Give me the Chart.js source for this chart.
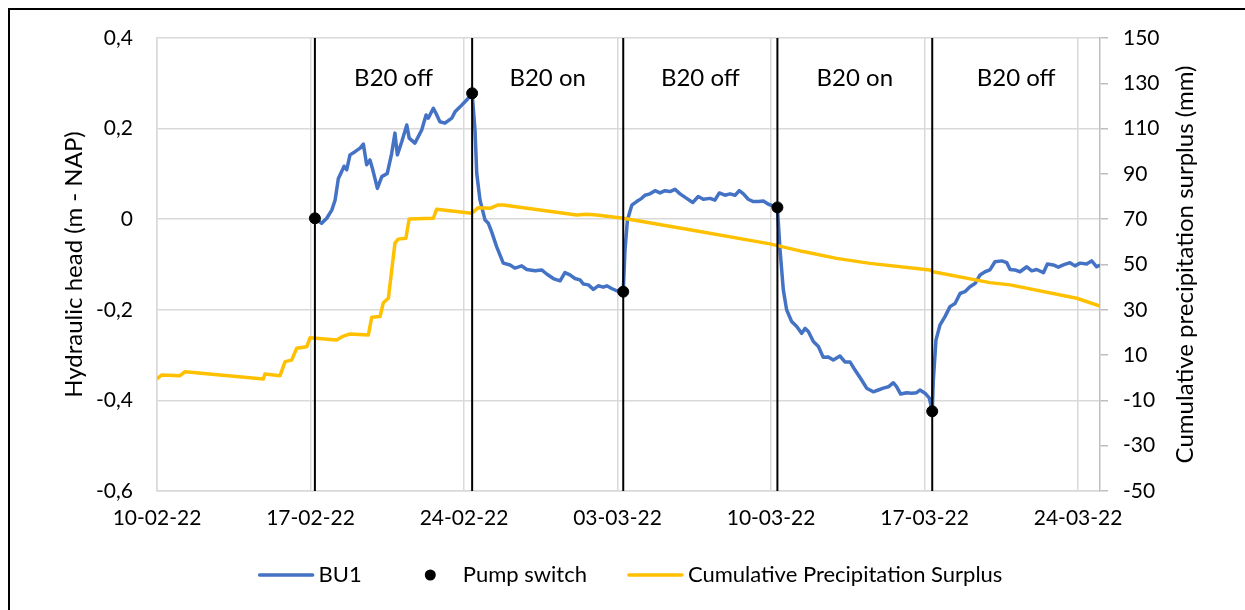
<!DOCTYPE html>
<html><head><meta charset="utf-8">
<script src="https://cdn.jsdelivr.net/npm/chart.js@4.4.1/dist/chart.umd.min.js"></script>
<style>
html,body{margin:0;padding:0;background:#fff;overflow:hidden;}
#wrap{position:relative;width:1245px;height:610px;overflow:hidden;}
#frame{position:absolute;left:8px;top:8px;width:1245px;height:610px;border-top:2px solid #000;border-left:2px solid #000;box-sizing:border-box;}
canvas{position:absolute;left:0;top:0;}
</style></head>
<body><div id="wrap"><div id="frame"></div><canvas id="c" width="1245" height="610"></canvas></div>
<script>
// x values: days since 10-02-22
const dateTickLabels = ['10-02-22','17-02-22','24-02-22','03-03-22','10-03-22','17-03-22','24-03-22'];
const periodLabels = ['B20 off','B20 on','B20 off','B20 on','B20 off'];

const bu1Days = [7.20,7.51,7.74,7.97,8.12,8.27,8.42,8.53,8.65,8.80,9.03,9.26,9.41,9.56,9.71,9.84,10.05,10.25,10.50,10.70,10.85,10.96,11.16,11.39,11.50,11.76,12.07,12.27,12.37,12.60,12.72,12.90,13.13,13.44,13.59,13.82,14.12,14.37,
14.50,14.58,14.73,14.96,15.11,15.26,15.49,15.79,16.10,16.32,16.63,16.86,17.24,17.54,17.77,18.07,18.38,18.60,18.83,19.06,19.29,19.44,19.67,19.90,20.12,20.35,20.51,20.73,20.96,21.26,
21.34,21.45,21.65,21.87,22.10,22.25,22.48,22.71,22.94,23.16,23.39,23.62,23.85,24.15,24.43,24.68,24.91,25.22,25.44,25.64,25.90,26.13,26.36,26.55,26.74,26.96,27.19,27.42,27.65,27.88,28.29,
28.41,28.56,28.71,28.94,29.17,29.40,29.55,29.70,29.93,30.16,30.38,30.61,30.84,31.14,31.37,31.60,31.83,32.13,32.36,32.66,32.89,33.12,33.35,33.58,33.73,33.91,34.19,34.41,34.64,34.79,35.02,35.22,35.35,
35.40,35.52,35.70,35.93,36.16,36.39,36.62,36.84,37.07,37.30,37.53,37.76,37.98,38.21,38.52,38.75,38.90,39.12,39.35,39.66,39.89,40.11,40.42,40.60,40.87,41.10,41.33,41.63,41.86,42.09,42.39,42.62,42.85,43.00];
const bu1Head = [0.002,-0.009,0.002,0.020,0.042,0.090,0.105,0.117,0.109,0.142,0.149,0.157,0.166,0.120,0.131,0.109,0.068,0.094,0.101,0.145,0.190,0.142,0.171,0.208,0.179,0.168,0.197,0.230,0.223,0.245,0.234,0.215,0.212,0.223,0.237,0.248,0.263,0.278,
0.197,0.101,0.042,-0.002,-0.009,-0.028,-0.061,-0.097,-0.101,-0.108,-0.103,-0.111,-0.114,-0.112,-0.121,-0.131,-0.136,-0.118,-0.123,-0.131,-0.134,-0.143,-0.145,-0.155,-0.147,-0.150,-0.147,-0.153,-0.158,-0.160,
-0.068,-0.002,0.031,0.039,0.046,0.053,0.056,0.063,0.058,0.063,0.061,0.066,0.056,0.046,0.037,0.050,0.044,0.046,0.042,0.058,0.053,0.056,0.053,0.063,0.056,0.044,0.039,0.039,0.040,0.033,0.026,
-0.068,-0.156,-0.200,-0.226,-0.237,-0.252,-0.241,-0.248,-0.270,-0.281,-0.305,-0.304,-0.311,-0.302,-0.315,-0.315,-0.333,-0.355,-0.373,-0.381,-0.377,-0.373,-0.370,-0.361,-0.370,-0.386,-0.383,-0.384,-0.383,-0.377,-0.384,-0.395,-0.424,
-0.355,-0.267,-0.234,-0.215,-0.193,-0.186,-0.164,-0.160,-0.149,-0.142,-0.123,-0.116,-0.112,-0.094,-0.092,-0.096,-0.111,-0.112,-0.116,-0.105,-0.114,-0.111,-0.118,-0.099,-0.101,-0.106,-0.101,-0.096,-0.103,-0.097,-0.099,-0.092,-0.105,-0.101];

const pumpDays = [7.20,14.37,21.26,28.29,35.35];
const pumpHead = [0.002,0.278,-0.160,0.026,-0.424];

const precipDays = [0.00,0.21,1.05,1.28,4.85,4.92,5.61,5.84,6.14,6.37,6.83,6.98,8.19,8.50,8.80,9.64,9.79,10.17,10.32,10.55,10.85,11.00,11.35,11.50,12.60,12.75,14.35,14.65,15.18,15.56,15.79,19.14,19.59,20.05,21.26,24.30,27.95,29.47,30.99,32.51,35.25,35.39,37.98,38.90,41.94,43.00];
const precipSurplus = [-0.5,1.2,0.9,2.7,-0.6,1.7,0.9,7.1,7.8,13.0,13.7,17.7,16.7,18.4,19.3,18.9,26.7,27.0,33.1,35.1,59.4,61.2,61.6,70.1,70.4,74.4,72.6,75.1,74.8,76.3,76.3,71.9,72.2,71.9,70.4,65.3,59.1,55.7,52.7,50.5,47.6,46.8,42.0,41.0,35.1,31.6];

const headTitle = 'Hydraulic head (m - NAP)';
const precipTitle = 'Cumulative precipitation surplus (mm)';

const FONT = 'Lato, "Open Sans", sans-serif';
const xy = (xs, ys) => xs.map((x, i) => ({x: x, y: ys[i]}));
const HEAD_MIN = -0.6, HEAD_MAX = 0.4;

const datasets = [
  {label:'BU1', data: xy(bu1Days, bu1Head), borderColor:'#4472C4', backgroundColor:'#4472C4', borderWidth:3.5, pointRadius:0, tension:0, borderJoinStyle:'round', yAxisID:'y', order:3, inLegend:true, sym:'line'},
  {label:'Pump switch', type:'scatter', data: xy(pumpDays, pumpHead), borderColor:'#000', backgroundColor:'#000', pointRadius:5.5, pointHoverRadius:5.5, showLine:false, yAxisID:'y', order:0, inLegend:true, sym:'dot'},
  {label:'Cumulative Precipitation Surplus', data: xy(precipDays, precipSurplus), borderColor:'#FFC000', backgroundColor:'#FFC000', borderWidth:3.5, pointRadius:0, tension:0, borderJoinStyle:'round', yAxisID:'y2', order:2, inLegend:true, sym:'line'}
];
pumpDays.forEach(d => datasets.push({label:'', data:[{x:d, y:HEAD_MIN},{x:d, y:HEAD_MAX}], borderColor:'#000', borderWidth:2, pointRadius:0, yAxisID:'y', order:1, inLegend:false}));

const extras = {
  id:'extras',
  afterDatasetsDraw(chart){
    const {ctx, scales:{x, y, y2}} = chart;
    ctx.save();
    // period labels
    const bounds = pumpDays.concat([x.max]);
    ctx.font = '24px ' + FONT; ctx.fillStyle = '#000'; ctx.textAlign = 'center'; ctx.textBaseline = 'alphabetic';
    for (let i = 0; i < periodLabels.length; i++) {
      ctx.fillText(periodLabels[i], x.getPixelForValue((bounds[i] + bounds[i+1]) / 2), y.getPixelForValue(0.294));
    }
    // right axis title (reads bottom to top)
    ctx.save();
    ctx.translate(y2.right - 60, (y2.top + y2.bottom) / 2);
    ctx.rotate(-Math.PI / 2);
    ctx.textBaseline = 'middle';
    ctx.fillText(precipTitle, 0, 0);
    ctx.restore();
    // legend
    const items = chart.data.datasets.filter(d => d.inLegend);
    ctx.font = '22px ' + FONT;
    const sym = 53, gapT = 6, gapI = 42;
    const widths = items.map(d => sym + gapT + ctx.measureText(d.label).width);
    const total = widths.reduce((a, b) => a + b, 0) + gapI * (items.length - 1);
    let x0 = 631 - total / 2; const ly = 575;
    items.forEach((d, i) => {
      if (d.sym === 'line') {
        ctx.strokeStyle = d.borderColor; ctx.lineWidth = 3.5; ctx.lineCap = 'round';
        ctx.beginPath(); ctx.moveTo(x0, ly); ctx.lineTo(x0 + sym, ly); ctx.stroke();
      } else {
        ctx.fillStyle = d.backgroundColor;
        ctx.beginPath(); ctx.arc(x0 + sym / 2, ly, 5.5, 0, Math.PI * 2); ctx.fill();
      }
      ctx.fillStyle = '#000'; ctx.textAlign = 'left'; ctx.textBaseline = 'middle';
      ctx.fillText(d.label, x0 + sym + gapT, ly);
      x0 += widths[i] + gapI;
    });
    ctx.restore();
  }
};

new Chart(document.getElementById('c'), {
  type:'line',
  data:{datasets},
  options:{
    responsive:false, animation:false, devicePixelRatio:1,
    layout:{padding:{top:38, left:0, right:0, bottom:0}},
    plugins:{legend:{display:false}, tooltip:{enabled:false}},
    scales:{
      x:{type:'linear', min:0, max:43,
        afterFit(s){ s.height = 119; },
        grid:{color:'#d9d9d9', lineWidth:1.5, drawTicks:false},
        border:{color:'#d9d9d9', width:1.5},
        ticks:{stepSize:7, includeBounds:false, autoSkip:false, maxRotation:0, padding:15, color:'#000', font:{family:FONT, size:21},
          callback:(v) => dateTickLabels[Math.round(v / 7)] || ''}
      },
      y:{position:'left', min:HEAD_MIN, max:HEAD_MAX,
        afterFit(s){ s.width = 157; },
        grid:{color:'#d9d9d9', lineWidth:1.5, drawTicks:false},
        border:{color:'#d9d9d9', width:1.5},
        ticks:{stepSize:0.2, padding:24, color:'#000', font:{family:FONT, size:21},
          callback:(v) => { const r = Math.round(v * 10) / 10; return r === 0 ? '0' : r.toFixed(1).replace('.', ','); }},
        title:{display:true, text:headTitle, color:'#000', font:{family:FONT, size:24}, padding:{top:60, bottom:0}}
      },
      y2:{position:'right', min:-50, max:150,
        afterFit(s){ s.width = 145; },
        grid:{drawOnChartArea:false, drawTicks:true, tickLength:8, color:'#bfbfbf', lineWidth:1.5},
        border:{color:'#bfbfbf', width:1.5},
        ticks:{stepSize:20, padding:15, color:'#000', font:{family:FONT, size:21}}
      }
    }
  },
  plugins:[extras]
});
</script>
</body></html>
